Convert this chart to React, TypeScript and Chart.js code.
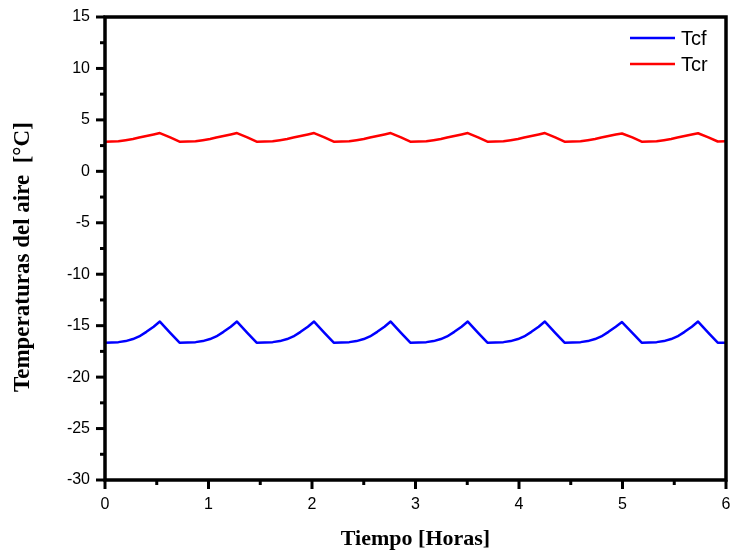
import React, { useEffect, useRef } from "react";
import { Chart, registerables } from "chart.js";

Chart.register(...registerables);

// Time in hours (x axis)
const timeHours = [
  0, 0.13, 0.2, 0.27, 0.33, 0.4, 0.47, 0.53, 0.63, 0.72,
  0.875, 0.945, 1.015, 1.075, 1.145, 1.215, 1.275, 1.375, 1.465,
  1.62, 1.69, 1.76, 1.82, 1.89, 1.96, 2.02, 2.12, 2.21,
  2.36, 2.43, 2.5, 2.56, 2.63, 2.7, 2.76, 2.86, 2.95,
  3.105, 3.175, 3.245, 3.305, 3.375, 3.445, 3.505, 3.605, 3.695,
  3.85, 3.92, 3.99, 4.05, 4.12, 4.19, 4.25, 4.35, 4.44,
  4.595, 4.665, 4.735, 4.795, 4.865, 4.935, 4.995, 5.095, 5.185,
  5.33, 5.4, 5.47, 5.53, 5.6, 5.67, 5.73, 5.83, 5.92,
  6.0,
];

// Tcf (blue)
const tcf = [
  -16.65, -16.6, -16.5, -16.3, -16.05, -15.6, -15.1, -14.6, -15.7, -16.65,
  -16.6, -16.5, -16.3, -16.05, -15.6, -15.1, -14.6, -15.7, -16.65,
  -16.6, -16.5, -16.3, -16.05, -15.6, -15.1, -14.6, -15.7, -16.65,
  -16.6, -16.5, -16.3, -16.05, -15.6, -15.1, -14.6, -15.7, -16.65,
  -16.6, -16.5, -16.3, -16.05, -15.6, -15.1, -14.6, -15.7, -16.65,
  -16.6, -16.5, -16.3, -16.05, -15.6, -15.1, -14.6, -15.7, -16.65,
  -16.6, -16.5, -16.3, -16.05, -15.6, -15.1, -14.65, -15.7, -16.65,
  -16.6, -16.5, -16.3, -16.05, -15.6, -15.1, -14.6, -15.7, -16.65,
  -16.65,
];

// Tcr (red)
const tcr = [
  2.88, 2.92, 3.03, 3.15, 3.28, 3.43, 3.58, 3.72, 3.3, 2.88,
  2.92, 3.03, 3.15, 3.28, 3.43, 3.58, 3.72, 3.3, 2.88,
  2.92, 3.03, 3.15, 3.28, 3.43, 3.58, 3.72, 3.3, 2.88,
  2.92, 3.03, 3.15, 3.28, 3.43, 3.58, 3.72, 3.3, 2.88,
  2.92, 3.03, 3.15, 3.28, 3.43, 3.58, 3.72, 3.3, 2.88,
  2.92, 3.03, 3.15, 3.28, 3.43, 3.58, 3.72, 3.3, 2.88,
  2.92, 3.03, 3.15, 3.28, 3.43, 3.58, 3.68, 3.3, 2.88,
  2.92, 3.03, 3.15, 3.28, 3.43, 3.58, 3.7, 3.3, 2.9,
  2.92,
];

const seriesLabels = ["Tcf", "Tcr"];
const seriesColors = ["#0000ff", "#ff0000"];

const xMin = 0, xMax = 6, xMajor = 1, xMinor = 0.5;
const yMin = -30, yMax = 15, yMajor = 5, yMinor = 2.5;

const xTitle = "Tiempo [Horas]";
const yTitle = "Temperaturas del aire  [°C]   ";

const framePlugin = {
  id: "frame",
  afterDraw(chart: any) {
    const { ctx, chartArea: a, scales } = chart;
    const xs = scales.x, ys = scales.y;
    ctx.save();
    ctx.strokeStyle = "#000";
    ctx.lineCap = "butt";
    ctx.lineWidth = 3;
    for (let v = yMin; v <= yMax + 1e-9; v += yMinor) {
      const y = ys.getPixelForValue(v);
      const major = Math.abs(v / yMajor - Math.round(v / yMajor)) < 1e-6;
      const len = major ? 9 : 5;
      ctx.beginPath();
      ctx.moveTo(a.left, y);
      ctx.lineTo(a.left - len, y);
      ctx.stroke();
    }
    for (let v = xMin; v <= xMax + 1e-9; v += xMinor) {
      const x = xs.getPixelForValue(v);
      const major = Math.abs(v / xMajor - Math.round(v / xMajor)) < 1e-6;
      const len = major ? 9 : 5;
      ctx.beginPath();
      ctx.moveTo(x, a.bottom);
      ctx.lineTo(x, a.bottom + len);
      ctx.stroke();
    }
    ctx.lineWidth = 3.5;
    ctx.strokeRect(a.left, a.top, a.right - a.left, a.bottom - a.top);

    // legend
    const lx0 = a.right - 96;
    const lx1 = a.right - 51;
    const tx = a.right - 45;
    const rows = [38, 64];
    ctx.font = "20px 'Liberation Sans', Arial, sans-serif";
    ctx.textBaseline = "middle";
    ctx.textAlign = "left";
    seriesLabels.forEach((lab, i) => {
      const y = rows[i];
      ctx.strokeStyle = seriesColors[i];
      ctx.lineWidth = 2.5;
      ctx.beginPath();
      ctx.moveTo(lx0, y);
      ctx.lineTo(lx1, y);
      ctx.stroke();
      ctx.fillStyle = "#000";
      ctx.fillText(lab, tx, y + 1);
    });
    ctx.restore();
  },
};

export default function App() {
  const ref = useRef<HTMLCanvasElement | null>(null);
  useEffect(() => {
    document.body.style.margin = "0";
    const canvas = ref.current;
    if (!canvas) return;
    const chart = new Chart(canvas, {
      type: "line",
      data: {
        datasets: seriesLabels.map((lab, i) => ({
          label: lab,
          data: timeHours.map((t, j) => ({ x: t, y: (i === 0 ? tcf : tcr)[j] })),
          borderColor: seriesColors[i],
          backgroundColor: seriesColors[i],
          borderWidth: 2.5,
          pointRadius: 0,
          tension: 0,
          borderJoinStyle: "round" as const,
          fill: false,
        })),
      },
      options: {
        animation: false,
        responsive: false,
        maintainAspectRatio: false,
        layout: { padding: { top: 17, right: 5, left: 0, bottom: 0 } },
        plugins: { legend: { display: false }, tooltip: { enabled: false } },
        scales: {
          x: {
            type: "linear",
            min: xMin,
            max: xMax,
            ticks: {
              stepSize: xMajor,
              padding: 15,
              color: "#000",
              font: { family: "'Liberation Sans', Arial, sans-serif", size: 16 },
              maxRotation: 0,
            },
            grid: { display: false, drawTicks: false },
            border: { display: false },
            title: {
              display: true,
              text: xTitle,
              color: "#000",
              font: { family: "'Liberation Serif', 'Times New Roman', serif", size: 22, weight: "bold" },
              padding: { top: 0, bottom: 3 },
            },
            afterFit(scale: any) {
              scale.height = 76;
              scale.paddingLeft = 0;
              scale.paddingRight = 0;
              scale.paddingTop = 0;
              scale.paddingBottom = 0;
            },
          },
          y: {
            type: "linear",
            min: yMin,
            max: yMax,
            ticks: {
              stepSize: yMajor,
              padding: 15,
              color: "#000",
              font: { family: "'Liberation Sans', Arial, sans-serif", size: 16 },
            },
            grid: { display: false, drawTicks: false },
            border: { display: false },
            title: {
              display: true,
              text: yTitle,
              color: "#000",
              font: { family: "'Liberation Serif', 'Times New Roman', serif", size: 23, weight: "bold" },
              padding: { top: 9, bottom: 0 },
            },
            afterFit(scale: any) {
              scale.width = 105;
              scale.paddingLeft = 0;
              scale.paddingRight = 0;
              scale.paddingTop = 0;
              scale.paddingBottom = 0;
            },
          },
        },
      },
      plugins: [framePlugin],
    });
    return () => chart.destroy();
  }, []);
  return (
    <div style={{ width: 731, height: 556, background: "#fff" }}>
      <canvas ref={ref} width={731} height={556} style={{ display: "block" }} />
    </div>
  );
}
